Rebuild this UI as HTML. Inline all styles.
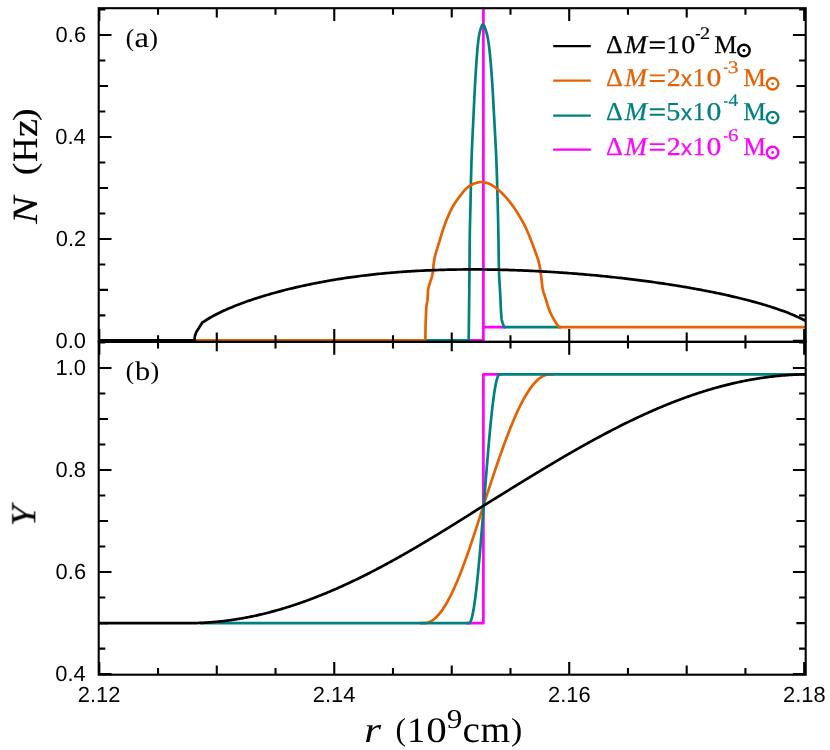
<!DOCTYPE html>
<html><head><meta charset="utf-8"><title>chart</title>
<style>html,body{margin:0;padding:0;background:#fff}svg{display:block}svg text{text-rendering:geometricPrecision}#txt{opacity:0.999}</style>
</head><body>
<svg width="830" height="750" viewBox="0 0 830 750">
<rect width="830" height="750" fill="#fff"/>
<g fill="none" stroke-width="2.7" stroke-linejoin="round" stroke-linecap="butt">
<path d="M466.5 340.30 L483.40 340.30 L483.40 8.6 M483.40 8.6 L483.40 327.10 L506 327.10" stroke="#FF00FF"/>
<path d="M423.00 340.30 L468.70 340.30 L468.71 339.52 L468.72 338.74 L468.73 337.97 L468.74 337.19 L468.75 336.41 L468.75 335.63 L468.76 334.85 L468.77 334.08 L468.78 333.30 L468.79 332.52 L468.80 331.74 L468.81 330.96 L468.82 330.19 L468.83 329.41 L468.84 328.63 L468.84 327.85 L468.85 327.07 L468.86 326.30 L468.87 325.52 L468.88 324.74 L468.89 323.96 L468.90 323.18 L468.91 322.41 L468.92 321.63 L468.92 320.85 L468.93 320.07 L468.94 319.29 L468.95 318.52 L468.96 317.74 L468.97 316.96 L468.98 316.18 L468.99 315.40 L469.00 314.62 L469.01 313.85 L469.02 313.07 L469.02 312.29 L469.03 311.51 L469.04 310.73 L469.05 309.96 L469.06 309.18 L469.07 308.40 L469.08 307.62 L469.09 306.84 L469.10 306.07 L469.11 305.29 L469.12 304.51 L469.13 303.73 L469.13 302.95 L469.14 302.18 L469.15 301.40 L469.16 300.62 L469.17 299.84 L469.18 299.06 L469.19 298.29 L469.20 297.51 L469.21 296.73 L469.22 295.95 L469.22 295.17 L469.23 294.40 L469.24 293.62 L469.25 292.84 L469.26 292.06 L469.27 291.28 L469.28 290.51 L469.29 289.73 L469.29 288.95 L469.30 288.17 L469.31 287.39 L469.32 286.62 L469.33 285.84 L469.34 285.06 L469.35 284.28 L469.35 283.50 L469.36 282.73 L469.37 281.95 L469.38 281.17 L469.39 280.39 L469.39 279.61 L469.40 278.84 L469.41 278.06 L469.42 277.28 L469.42 276.50 L469.43 275.72 L469.44 274.95 L469.45 274.17 L469.45 273.39 L469.46 272.61 L469.47 271.83 L469.47 271.05 L469.48 270.28 L469.49 269.50 L469.49 268.72 L469.50 267.94 L469.50 267.16 L469.51 266.39 L469.52 265.61 L469.52 264.83 L469.53 264.05 L469.53 263.27 L469.54 262.50 L469.55 261.72 L469.55 260.94 L469.56 260.16 L469.56 259.38 L469.57 258.61 L469.58 257.83 L469.58 257.05 L469.59 256.27 L469.59 255.49 L469.60 254.72 L469.61 253.94 L469.61 253.16 L469.62 252.38 L469.63 251.60 L469.63 250.82 L469.64 250.05 L469.65 249.27 L469.65 248.49 L469.66 247.71 L469.67 246.93 L469.67 246.16 L469.68 245.38 L469.69 244.60 L469.70 243.82 L469.71 243.04 L469.71 242.27 L469.72 241.49 L469.73 240.71 L469.74 239.93 L469.75 239.15 L469.76 238.38 L469.77 237.60 L469.78 236.82 L469.79 236.04 L469.80 235.26 L469.81 234.49 L469.82 233.71 L469.83 232.93 L469.84 232.15 L469.86 231.37 L469.87 230.60 L469.88 229.82 L469.90 229.04 L469.92 228.26 L469.93 227.49 L469.95 226.71 L469.97 225.93 L469.98 225.15 L470.00 224.37 L470.02 223.60 L470.04 222.82 L470.06 222.04 L470.08 221.26 L470.09 220.48 L470.11 219.71 L470.13 218.93 L470.15 218.15 L470.17 217.37 L470.19 216.60 L470.21 215.82 L470.23 215.04 L470.25 214.26 L470.27 213.48 L470.29 212.71 L470.31 211.93 L470.33 211.15 L470.35 210.37 L470.36 209.59 L470.38 208.82 L470.40 208.04 L470.42 207.26 L470.43 206.48 L470.45 205.70 L470.47 204.93 L470.48 204.15 L470.50 203.37 L470.52 202.59 L470.53 201.82 L470.55 201.04 L470.57 200.26 L470.58 199.48 L470.60 198.70 L470.61 197.93 L470.63 197.15 L470.65 196.37 L470.66 195.59 L470.68 194.81 L470.69 194.04 L470.71 193.26 L470.73 192.48 L470.74 191.70 L470.76 190.92 L470.77 190.15 L470.79 189.37 L470.81 188.59 L470.82 187.81 L470.84 187.03 L470.85 186.26 L470.87 185.48 L470.89 184.70 L470.90 183.92 L470.92 183.14 L470.94 182.37 L470.95 181.59 L470.97 180.81 L470.99 180.03 L471.01 179.25 L471.02 178.48 L471.04 177.70 L471.06 176.92 L471.08 176.14 L471.10 175.37 L471.12 174.59 L471.13 173.81 L471.15 173.03 L471.17 172.25 L471.19 171.48 L471.21 170.70 L471.23 169.92 L471.25 169.14 L471.28 168.37 L471.30 167.59 L471.32 166.81 L471.34 166.03 L471.36 165.25 L471.39 164.48 L471.41 163.70 L471.43 162.92 L471.46 162.14 L471.48 161.37 L471.51 160.59 L471.53 159.81 L471.56 159.03 L471.59 158.26 L471.61 157.48 L471.64 156.70 L471.67 155.92 L471.70 155.15 L471.73 154.37 L471.76 153.59 L471.79 152.81 L471.82 152.04 L471.85 151.26 L471.88 150.48 L471.92 149.70 L471.95 148.93 L471.98 148.15 L472.02 147.37 L472.05 146.59 L472.08 145.82 L472.12 145.04 L472.15 144.26 L472.19 143.48 L472.22 142.71 L472.26 141.93 L472.29 141.15 L472.33 140.38 L472.36 139.60 L472.40 138.82 L472.44 138.04 L472.47 137.27 L472.51 136.49 L472.55 135.71 L472.58 134.93 L472.62 134.16 L472.66 133.38 L472.69 132.60 L472.73 131.83 L472.77 131.05 L472.81 130.27 L472.84 129.49 L472.88 128.72 L472.92 127.94 L472.96 127.16 L472.99 126.38 L473.03 125.61 L473.07 124.83 L473.11 124.05 L473.14 123.28 L473.18 122.50 L473.22 121.72 L473.26 120.94 L473.29 120.17 L473.33 119.39 L473.37 118.61 L473.40 117.84 L473.44 117.06 L473.48 116.28 L473.51 115.50 L473.55 114.73 L473.58 113.95 L473.62 113.17 L473.66 112.39 L473.69 111.62 L473.73 110.84 L473.77 110.06 L473.80 109.29 L473.84 108.51 L473.88 107.73 L473.91 106.95 L473.95 106.18 L473.99 105.40 L474.02 104.62 L474.06 103.84 L474.10 103.07 L474.14 102.29 L474.17 101.51 L474.21 100.73 L474.25 99.96 L474.29 99.18 L474.33 98.40 L474.36 97.63 L474.40 96.85 L474.44 96.07 L474.48 95.29 L474.52 94.52 L474.56 93.74 L474.60 92.96 L474.64 92.19 L474.68 91.41 L474.72 90.63 L474.76 89.85 L474.80 89.08 L474.84 88.30 L474.88 87.52 L474.92 86.75 L474.97 85.97 L475.01 85.19 L475.05 84.41 L475.09 83.64 L475.14 82.86 L475.18 82.08 L475.23 81.31 L475.27 80.53 L475.31 79.75 L475.36 78.98 L475.41 78.20 L475.45 77.42 L475.50 76.65 L475.54 75.87 L475.59 75.09 L475.64 74.32 L475.69 73.54 L475.74 72.77 L475.79 71.99 L475.84 71.21 L475.89 70.44 L475.94 69.66 L475.99 68.88 L476.04 68.11 L476.09 67.33 L476.14 66.56 L476.19 65.78 L476.24 65.00 L476.29 64.22 L476.35 63.45 L476.40 62.67 L476.45 61.89 L476.50 61.11 L476.56 60.33 L476.61 59.56 L476.66 58.78 L476.72 58.00 L476.77 57.22 L476.83 56.44 L476.89 55.67 L476.95 54.89 L477.01 54.11 L477.07 53.33 L477.13 52.56 L477.20 51.78 L477.26 51.00 L477.33 50.23 L477.40 49.45 L477.47 48.68 L477.54 47.90 L477.62 47.13 L477.69 46.36 L477.77 45.58 L477.85 44.81 L477.93 44.04 L478.02 43.27 L478.11 42.50 L478.20 41.73 L478.29 40.96 L478.39 40.19 L478.48 39.42 L478.59 38.65 L478.70 37.88 L478.82 37.11 L478.94 36.34 L479.08 35.56 L479.22 34.79 L479.38 34.02 L479.54 33.25 L479.71 32.49 L479.89 31.73 L480.09 30.98 L480.29 30.23 L480.50 29.49 L480.72 28.75 L480.96 27.99 L481.26 27.10 L481.60 26.17 L481.97 25.32 L482.35 24.64 L482.72 24.25 L483.08 24.25 L483.47 24.63 L483.87 25.28 L484.26 26.11 L484.64 27.02 L484.98 27.90 L485.26 28.67 L485.52 29.39 L485.77 30.12 L486.01 30.85 L486.24 31.60 L486.45 32.35 L486.66 33.10 L486.86 33.86 L487.05 34.62 L487.23 35.39 L487.40 36.16 L487.56 36.92 L487.71 37.69 L487.86 38.45 L487.99 39.22 L488.11 39.98 L488.23 40.74 L488.35 41.51 L488.46 42.27 L488.58 43.04 L488.69 43.81 L488.79 44.58 L488.90 45.34 L489.00 46.11 L489.10 46.89 L489.19 47.66 L489.29 48.43 L489.38 49.20 L489.47 49.98 L489.56 50.75 L489.64 51.52 L489.73 52.30 L489.81 53.07 L489.89 53.85 L489.97 54.63 L490.05 55.40 L490.12 56.18 L490.20 56.96 L490.27 57.73 L490.34 58.51 L490.41 59.29 L490.48 60.07 L490.55 60.84 L490.62 61.62 L490.68 62.40 L490.75 63.18 L490.82 63.95 L490.88 64.73 L490.94 65.51 L491.01 66.28 L491.07 67.06 L491.13 67.83 L491.19 68.61 L491.25 69.39 L491.32 70.16 L491.38 70.94 L491.43 71.71 L491.49 72.49 L491.55 73.26 L491.61 74.04 L491.66 74.81 L491.72 75.59 L491.78 76.36 L491.83 77.14 L491.88 77.92 L491.94 78.69 L491.99 79.47 L492.04 80.24 L492.10 81.02 L492.15 81.80 L492.20 82.57 L492.25 83.35 L492.30 84.13 L492.35 84.90 L492.39 85.68 L492.44 86.46 L492.49 87.23 L492.54 88.01 L492.59 88.79 L492.63 89.56 L492.68 90.34 L492.72 91.12 L492.77 91.89 L492.81 92.67 L492.86 93.45 L492.90 94.22 L492.95 95.00 L492.99 95.78 L493.04 96.56 L493.08 97.33 L493.12 98.11 L493.17 98.89 L493.21 99.66 L493.25 100.44 L493.29 101.22 L493.34 102.00 L493.38 102.77 L493.42 103.55 L493.46 104.33 L493.50 105.10 L493.54 105.88 L493.59 106.66 L493.63 107.44 L493.67 108.21 L493.71 108.99 L493.75 109.77 L493.79 110.54 L493.83 111.32 L493.88 112.10 L493.92 112.88 L493.96 113.65 L494.00 114.43 L494.04 115.21 L494.08 115.98 L494.12 116.76 L494.17 117.54 L494.21 118.32 L494.25 119.09 L494.29 119.87 L494.34 120.65 L494.38 121.42 L494.42 122.20 L494.46 122.98 L494.51 123.75 L494.55 124.53 L494.59 125.31 L494.63 126.09 L494.68 126.86 L494.72 127.64 L494.76 128.42 L494.81 129.19 L494.85 129.97 L494.89 130.75 L494.93 131.52 L494.98 132.30 L495.02 133.08 L495.06 133.85 L495.10 134.63 L495.15 135.41 L495.19 136.19 L495.23 136.96 L495.27 137.74 L495.31 138.52 L495.35 139.29 L495.39 140.07 L495.44 140.85 L495.48 141.63 L495.52 142.40 L495.56 143.18 L495.60 143.96 L495.64 144.73 L495.68 145.51 L495.72 146.29 L495.75 147.07 L495.79 147.84 L495.83 148.62 L495.87 149.40 L495.91 150.17 L495.94 150.95 L495.98 151.73 L496.02 152.51 L496.05 153.28 L496.09 154.06 L496.12 154.84 L496.16 155.61 L496.19 156.39 L496.23 157.17 L496.26 157.95 L496.29 158.72 L496.32 159.50 L496.36 160.28 L496.39 161.06 L496.42 161.83 L496.45 162.61 L496.48 163.39 L496.51 164.17 L496.53 164.94 L496.56 165.72 L496.59 166.50 L496.62 167.28 L496.65 168.05 L496.67 168.83 L496.70 169.61 L496.73 170.39 L496.75 171.16 L496.78 171.94 L496.81 172.72 L496.83 173.50 L496.86 174.27 L496.88 175.05 L496.91 175.83 L496.93 176.61 L496.96 177.38 L496.98 178.16 L497.01 178.94 L497.03 179.72 L497.05 180.49 L497.08 181.27 L497.10 182.05 L497.12 182.83 L497.15 183.61 L497.17 184.38 L497.19 185.16 L497.21 185.94 L497.24 186.72 L497.26 187.50 L497.28 188.27 L497.30 189.05 L497.32 189.83 L497.35 190.61 L497.37 191.38 L497.39 192.16 L497.41 192.94 L497.43 193.72 L497.45 194.50 L497.47 195.27 L497.49 196.05 L497.51 196.83 L497.53 197.61 L497.55 198.38 L497.57 199.16 L497.60 199.94 L497.62 200.72 L497.64 201.50 L497.66 202.27 L497.67 203.05 L497.69 203.83 L497.71 204.61 L497.73 205.39 L497.75 206.16 L497.77 206.94 L497.79 207.72 L497.81 208.50 L497.83 209.27 L497.85 210.05 L497.87 210.83 L497.89 211.61 L497.91 212.39 L497.93 213.16 L497.95 213.94 L497.96 214.72 L497.98 215.50 L498.00 216.28 L498.02 217.05 L498.04 217.83 L498.06 218.61 L498.07 219.39 L498.09 220.16 L498.11 220.94 L498.13 221.72 L498.14 222.50 L498.16 223.28 L498.18 224.05 L498.19 224.83 L498.21 225.61 L498.23 226.39 L498.24 227.17 L498.26 227.94 L498.28 228.72 L498.29 229.50 L498.31 230.28 L498.32 231.06 L498.34 231.83 L498.35 232.61 L498.37 233.39 L498.38 234.17 L498.40 234.95 L498.41 235.72 L498.43 236.50 L498.44 237.28 L498.45 238.06 L498.47 238.84 L498.48 239.61 L498.49 240.39 L498.50 241.17 L498.51 241.95 L498.53 242.73 L498.54 243.50 L498.55 244.28 L498.56 245.06 L498.57 245.84 L498.58 246.62 L498.59 247.39 L498.60 248.17 L498.61 248.95 L498.62 249.73 L498.63 250.51 L498.64 251.29 L498.65 252.06 L498.66 252.84 L498.67 253.62 L498.68 254.40 L498.69 255.18 L498.70 255.95 L498.71 256.73 L498.72 257.51 L498.73 258.29 L498.75 259.07 L498.76 259.84 L498.77 260.62 L498.78 261.40 L498.80 262.18 L498.81 262.96 L498.82 263.73 L498.84 264.51 L498.85 265.29 L498.87 266.07 L498.89 266.84 L498.90 267.62 L498.92 268.40 L498.94 269.18 L498.96 269.96 L498.98 270.73 L499.00 271.51 L499.02 272.29 L499.04 273.06 L499.07 273.84 L499.10 274.62 L499.13 275.40 L499.16 276.17 L499.20 276.95 L499.24 277.73 L499.28 278.50 L499.32 279.28 L499.36 280.06 L499.41 280.84 L499.45 281.61 L499.50 282.39 L499.55 283.17 L499.60 283.94 L499.65 284.72 L499.70 285.50 L499.75 286.27 L499.80 287.05 L499.84 287.83 L499.89 288.60 L499.94 289.38 L499.99 290.16 L500.04 290.93 L500.09 291.71 L500.13 292.49 L500.18 293.26 L500.22 294.04 L500.26 294.82 L500.30 295.60 L500.34 296.38 L500.37 297.16 L500.41 297.94 L500.44 298.72 L500.47 299.50 L500.50 300.29 L500.53 301.07 L500.57 301.85 L500.60 302.63 L500.63 303.42 L500.66 304.20 L500.69 304.98 L500.73 305.76 L500.76 306.54 L500.80 307.33 L500.83 308.11 L500.87 308.88 L500.91 309.66 L500.96 310.44 L501.00 311.22 L501.05 311.99 L501.10 312.77 L501.15 313.54 L501.21 314.31 L501.27 315.08 L501.33 315.84 L501.40 316.61 L501.47 317.37 L501.55 318.13 L501.63 318.89 L501.75 319.65 L501.90 320.40 L502.08 321.15 L502.29 321.90 L502.51 322.65 L502.76 323.40 L503.02 324.14 L503.29 324.88 L503.56 325.62 L503.83 326.36 L504.10 327.10 L561.00 327.10" stroke="#008080"/>
<path d="M192.00 340.30 L425.40 340.30 L425.40 339.80 L425.40 339.30 L425.40 338.80 L425.41 338.30 L425.41 337.80 L425.41 337.31 L425.42 336.81 L425.42 336.31 L425.43 335.81 L425.43 335.31 L425.44 334.81 L425.44 334.31 L425.45 333.81 L425.45 333.31 L425.46 332.81 L425.47 332.31 L425.47 331.82 L425.48 331.32 L425.49 330.82 L425.50 330.32 L425.50 329.82 L425.51 329.32 L425.52 328.82 L425.53 328.32 L425.54 327.82 L425.55 327.32 L425.56 326.83 L425.57 326.33 L425.59 325.83 L425.60 325.33 L425.61 324.83 L425.63 324.33 L425.64 323.83 L425.66 323.33 L425.67 322.83 L425.69 322.33 L425.70 321.84 L425.72 321.34 L425.73 320.84 L425.75 320.34 L425.76 319.84 L425.78 319.34 L425.80 318.84 L425.81 318.34 L425.83 317.84 L425.85 317.34 L425.87 316.84 L425.88 316.34 L425.90 315.84 L425.92 315.34 L425.94 314.84 L425.96 314.34 L425.98 313.85 L426.00 313.35 L426.03 312.85 L426.05 312.35 L426.08 311.85 L426.10 311.35 L426.13 310.85 L426.15 310.36 L426.18 309.86 L426.21 309.36 L426.24 308.86 L426.28 308.37 L426.31 307.87 L426.34 307.37 L426.38 306.88 L426.42 306.38 L426.47 305.89 L426.53 305.39 L426.60 304.90 L426.68 304.41 L426.77 303.91 L426.86 303.42 L426.96 302.93 L427.05 302.44 L427.15 301.95 L427.24 301.45 L427.33 300.96 L427.41 300.47 L427.48 299.97 L427.54 299.48 L427.59 298.99 L427.63 298.49 L427.67 297.99 L427.70 297.49 L427.72 296.99 L427.75 296.49 L427.77 295.99 L427.79 295.49 L427.81 294.99 L427.83 294.49 L427.85 293.99 L427.87 293.49 L427.89 292.99 L427.91 292.49 L427.94 291.99 L427.97 291.49 L428.00 291.00 L428.04 290.50 L428.08 290.01 L428.13 289.52 L428.20 289.03 L428.29 288.55 L428.40 288.06 L428.52 287.58 L428.66 287.09 L428.80 286.61 L428.95 286.13 L429.10 285.65 L429.25 285.17 L429.40 284.69 L429.54 284.21 L429.68 283.73 L429.82 283.25 L429.96 282.77 L430.12 282.30 L430.27 281.82 L430.43 281.35 L430.58 280.87 L430.74 280.40 L430.90 279.92 L431.05 279.44 L431.20 278.97 L431.34 278.49 L431.48 278.01 L431.61 277.53 L431.74 277.05 L431.86 276.57 L431.97 276.08 L432.09 275.60 L432.20 275.11 L432.31 274.62 L432.43 274.13 L432.53 273.64 L432.64 273.15 L432.74 272.66 L432.83 272.17 L432.92 271.68 L433.00 271.19 L433.07 270.69 L433.13 270.20 L433.19 269.71 L433.24 269.21 L433.27 268.71 L433.31 268.22 L433.34 267.72 L433.36 267.22 L433.39 266.72 L433.42 266.22 L433.46 265.72 L433.50 265.23 L433.55 264.73 L433.60 264.23 L433.65 263.74 L433.72 263.24 L433.78 262.75 L433.85 262.25 L433.93 261.76 L434.00 261.26 L434.08 260.77 L434.17 260.28 L434.25 259.79 L434.34 259.30 L434.43 258.81 L434.53 258.32 L434.63 257.83 L434.74 257.35 L434.86 256.86 L434.98 256.37 L435.10 255.89 L435.23 255.40 L435.35 254.92 L435.48 254.44 L435.62 253.96 L435.75 253.47 L435.88 252.99 L436.01 252.51 L436.15 252.03 L436.28 251.55 L436.42 251.07 L436.57 250.60 L436.72 250.12 L436.87 249.64 L437.02 249.17 L437.17 248.69 L437.32 248.21 L437.47 247.74 L437.62 247.26 L437.77 246.78 L437.91 246.31 L438.06 245.83 L438.20 245.35 L438.35 244.88 L438.50 244.40 L438.64 243.92 L438.79 243.44 L438.93 242.97 L439.08 242.49 L439.23 242.01 L439.37 241.53 L439.52 241.06 L439.66 240.58 L439.81 240.10 L439.95 239.62 L440.10 239.15 L440.24 238.67 L440.38 238.19 L440.53 237.71 L440.67 237.23 L440.81 236.75 L440.95 236.28 L441.09 235.80 L441.24 235.32 L441.38 234.84 L441.52 234.36 L441.66 233.88 L441.81 233.41 L441.96 232.93 L442.10 232.45 L442.25 231.98 L442.40 231.50 L442.56 231.03 L442.71 230.55 L442.86 230.08 L443.02 229.60 L443.18 229.13 L443.33 228.65 L443.49 228.18 L443.65 227.71 L443.81 227.23 L443.98 226.76 L444.14 226.29 L444.31 225.82 L444.47 225.35 L444.64 224.88 L444.81 224.41 L444.98 223.94 L445.16 223.48 L445.33 223.01 L445.51 222.54 L445.69 222.08 L445.87 221.61 L446.06 221.15 L446.24 220.68 L446.43 220.22 L446.62 219.76 L446.81 219.30 L447.00 218.84 L447.19 218.37 L447.38 217.91 L447.58 217.45 L447.77 217.00 L447.97 216.54 L448.17 216.08 L448.36 215.62 L448.56 215.16 L448.76 214.70 L448.96 214.25 L449.16 213.79 L449.37 213.33 L449.57 212.88 L449.78 212.42 L449.99 211.97 L450.20 211.52 L450.42 211.07 L450.64 210.62 L450.86 210.17 L451.08 209.73 L451.31 209.29 L451.54 208.84 L451.78 208.41 L452.02 207.97 L452.26 207.53 L452.50 207.09 L452.75 206.66 L453.00 206.23 L453.26 205.80 L453.51 205.37 L453.77 204.94 L454.03 204.51 L454.29 204.09 L454.56 203.66 L454.83 203.24 L455.10 202.82 L455.37 202.40 L455.64 201.99 L455.92 201.57 L456.20 201.16 L456.48 200.75 L456.77 200.34 L457.06 199.94 L457.35 199.53 L457.64 199.13 L457.94 198.72 L458.24 198.32 L458.54 197.92 L458.84 197.53 L459.14 197.13 L459.45 196.73 L459.75 196.34 L460.06 195.94 L460.37 195.55 L460.68 195.16 L460.98 194.76 L461.29 194.37 L461.60 193.97 L461.90 193.57 L462.21 193.17 L462.52 192.77 L462.83 192.37 L463.14 191.97 L463.45 191.58 L463.77 191.19 L464.09 190.80 L464.42 190.43 L464.75 190.06 L465.09 189.69 L465.43 189.34 L465.78 189.00 L466.14 188.67 L466.50 188.34 L466.88 188.02 L467.26 187.70 L467.65 187.38 L468.05 187.07 L468.45 186.76 L468.86 186.46 L469.28 186.17 L469.70 185.88 L470.12 185.61 L470.55 185.34 L470.98 185.09 L471.41 184.85 L471.85 184.62 L472.29 184.41 L472.74 184.20 L473.19 184.00 L473.65 183.80 L474.12 183.61 L474.59 183.43 L475.07 183.26 L475.54 183.10 L476.02 182.95 L476.50 182.82 L476.99 182.70 L477.47 182.59 L477.96 182.48 L478.45 182.37 L478.94 182.26 L479.44 182.17 L479.93 182.09 L480.43 182.04 L480.92 182.00 L481.42 182.00 L481.91 182.02 L482.41 182.07 L482.91 182.13 L483.41 182.20 L483.90 182.29 L484.40 182.38 L484.89 182.48 L485.37 182.58 L485.86 182.68 L486.34 182.79 L486.83 182.93 L487.31 183.07 L487.79 183.23 L488.26 183.40 L488.73 183.58 L489.20 183.77 L489.66 183.96 L490.11 184.16 L490.55 184.36 L490.99 184.58 L491.43 184.82 L491.86 185.06 L492.29 185.32 L492.71 185.59 L493.13 185.87 L493.55 186.15 L493.96 186.44 L494.37 186.74 L494.78 187.04 L495.19 187.34 L495.59 187.64 L495.98 187.94 L496.38 188.24 L496.77 188.54 L497.16 188.85 L497.55 189.16 L497.93 189.48 L498.31 189.80 L498.69 190.13 L499.07 190.46 L499.44 190.79 L499.82 191.13 L500.18 191.47 L500.55 191.81 L500.91 192.16 L501.28 192.50 L501.64 192.85 L501.99 193.20 L502.35 193.55 L502.70 193.90 L503.05 194.25 L503.40 194.61 L503.74 194.97 L504.09 195.33 L504.43 195.69 L504.77 196.06 L505.11 196.43 L505.45 196.80 L505.78 197.17 L506.11 197.54 L506.44 197.92 L506.77 198.30 L507.10 198.68 L507.42 199.06 L507.74 199.44 L508.06 199.82 L508.38 200.20 L508.70 200.58 L509.02 200.97 L509.33 201.36 L509.64 201.75 L509.95 202.14 L510.26 202.53 L510.57 202.92 L510.88 203.32 L511.18 203.71 L511.49 204.11 L511.79 204.51 L512.09 204.91 L512.38 205.31 L512.68 205.72 L512.97 206.12 L513.26 206.53 L513.55 206.93 L513.84 207.34 L514.13 207.75 L514.41 208.16 L514.69 208.57 L514.97 208.98 L515.24 209.40 L515.52 209.81 L515.79 210.23 L516.06 210.65 L516.33 211.07 L516.60 211.49 L516.87 211.91 L517.13 212.34 L517.40 212.76 L517.66 213.19 L517.92 213.61 L518.18 214.04 L518.44 214.47 L518.70 214.90 L518.95 215.32 L519.21 215.75 L519.47 216.18 L519.72 216.61 L519.97 217.04 L520.23 217.47 L520.48 217.90 L520.73 218.33 L520.98 218.77 L521.23 219.20 L521.48 219.63 L521.73 220.06 L521.98 220.50 L522.22 220.93 L522.47 221.37 L522.71 221.81 L522.95 222.24 L523.19 222.68 L523.42 223.12 L523.66 223.56 L523.89 224.00 L524.12 224.45 L524.34 224.89 L524.57 225.34 L524.79 225.78 L525.01 226.23 L525.23 226.68 L525.44 227.13 L525.66 227.58 L525.87 228.03 L526.08 228.48 L526.29 228.94 L526.50 229.39 L526.71 229.84 L526.91 230.30 L527.12 230.76 L527.32 231.21 L527.52 231.67 L527.72 232.13 L527.92 232.59 L528.12 233.04 L528.32 233.50 L528.51 233.96 L528.71 234.42 L528.90 234.88 L529.09 235.34 L529.28 235.80 L529.47 236.26 L529.66 236.73 L529.85 237.19 L530.03 237.65 L530.21 238.12 L530.40 238.58 L530.58 239.05 L530.76 239.51 L530.94 239.98 L531.12 240.44 L531.30 240.91 L531.48 241.38 L531.66 241.84 L531.83 242.31 L532.01 242.78 L532.19 243.24 L532.37 243.71 L532.54 244.17 L532.72 244.64 L532.90 245.11 L533.07 245.58 L533.25 246.04 L533.42 246.51 L533.60 246.98 L533.77 247.45 L533.95 247.91 L534.12 248.38 L534.29 248.85 L534.46 249.32 L534.63 249.79 L534.80 250.26 L534.97 250.73 L535.14 251.20 L535.31 251.67 L535.47 252.14 L535.64 252.61 L535.80 253.08 L535.97 253.55 L536.14 254.02 L536.31 254.49 L536.48 254.96 L536.65 255.43 L536.82 255.90 L536.99 256.38 L537.15 256.85 L537.31 257.32 L537.47 257.79 L537.63 258.27 L537.79 258.74 L537.94 259.22 L538.08 259.69 L538.22 260.17 L538.35 260.65 L538.48 261.13 L538.61 261.61 L538.73 262.10 L538.84 262.58 L538.96 263.06 L539.08 263.55 L539.19 264.04 L539.30 264.52 L539.40 265.01 L539.51 265.50 L539.61 265.99 L539.71 266.48 L539.80 266.97 L539.90 267.47 L539.99 267.96 L540.07 268.45 L540.16 268.94 L540.24 269.43 L540.32 269.92 L540.40 270.42 L540.47 270.91 L540.54 271.40 L540.61 271.90 L540.67 272.39 L540.73 272.89 L540.80 273.38 L540.86 273.88 L540.92 274.37 L540.98 274.87 L541.04 275.37 L541.09 275.86 L541.15 276.36 L541.21 276.85 L541.27 277.35 L541.33 277.85 L541.39 278.34 L541.45 278.84 L541.51 279.33 L541.57 279.83 L541.63 280.33 L541.68 280.82 L541.74 281.32 L541.79 281.82 L541.85 282.32 L541.90 282.82 L541.95 283.32 L542.01 283.81 L542.07 284.31 L542.12 284.81 L542.18 285.30 L542.25 285.80 L542.31 286.29 L542.38 286.78 L542.45 287.28 L542.53 287.77 L542.61 288.26 L542.69 288.74 L542.78 289.23 L542.88 289.71 L542.99 290.20 L543.10 290.68 L543.23 291.16 L543.36 291.64 L543.49 292.12 L543.64 292.60 L543.78 293.07 L543.94 293.55 L544.09 294.03 L544.25 294.50 L544.41 294.98 L544.57 295.45 L544.74 295.93 L544.90 296.40 L545.06 296.88 L545.23 297.35 L545.39 297.83 L545.55 298.30 L545.71 298.78 L545.86 299.25 L546.01 299.73 L546.16 300.21 L546.30 300.69 L546.44 301.17 L546.58 301.65 L546.73 302.13 L546.87 302.61 L547.01 303.09 L547.15 303.58 L547.29 304.06 L547.43 304.54 L547.57 305.02 L547.72 305.50 L547.87 305.98 L548.02 306.45 L548.17 306.93 L548.32 307.40 L548.48 307.87 L548.65 308.34 L548.82 308.81 L548.99 309.27 L549.17 309.73 L549.35 310.18 L549.54 310.64 L549.73 311.09 L549.92 311.54 L550.12 312.00 L550.32 312.45 L550.52 312.90 L550.73 313.35 L550.94 313.80 L551.15 314.24 L551.37 314.69 L551.59 315.14 L551.81 315.58 L552.03 316.02 L552.26 316.47 L552.50 316.91 L552.73 317.35 L552.97 317.78 L553.21 318.22 L553.45 318.66 L553.70 319.09 L553.95 319.53 L554.21 319.96 L554.46 320.39 L554.72 320.82 L554.99 321.25 L555.25 321.68 L555.52 322.10 L555.80 322.53 L556.07 322.95 L556.35 323.37 L556.63 323.79 L556.92 324.21 L557.21 324.63 L557.50 325.04 L557.79 325.46 L558.09 325.87 L558.39 326.28 L558.69 326.69 L559.00 327.10 L805.70 327.10" stroke="#E66101"/>
<path d="M98.70 340.30 L194.40 340.30 L194.90 336.00 L196.20 332.30 L202.50 322.30 L204.00 321.58 L206.00 320.24 L208.00 318.97 L210.00 317.77 L212.00 316.63 L214.00 315.53 L216.00 314.47 L218.00 313.45 L220.00 312.47 L222.00 311.52 L224.00 310.59 L226.00 309.69 L228.00 308.82 L230.00 307.96 L232.00 307.13 L234.00 306.32 L236.00 305.52 L238.00 304.74 L240.00 303.98 L242.00 303.23 L244.00 302.50 L246.00 301.79 L248.00 301.08 L250.00 300.39 L252.00 299.71 L254.00 299.05 L256.00 298.39 L258.00 297.75 L260.00 297.12 L262.00 296.50 L264.00 295.89 L266.00 295.29 L268.00 294.70 L270.00 294.12 L272.00 293.55 L274.00 292.99 L276.00 292.43 L278.00 291.89 L280.00 291.36 L282.00 290.83 L284.00 290.31 L286.00 289.80 L288.00 289.30 L290.00 288.81 L292.00 288.33 L294.00 287.85 L296.00 287.38 L298.00 286.92 L300.00 286.47 L302.00 286.02 L304.00 285.58 L306.00 285.15 L308.00 284.73 L310.00 284.31 L312.00 283.90 L314.00 283.50 L316.00 283.10 L318.00 282.71 L320.00 282.33 L322.00 281.96 L324.00 281.59 L326.00 281.23 L328.00 280.87 L330.00 280.52 L332.00 280.18 L334.00 279.84 L336.00 279.51 L338.00 279.19 L340.00 278.87 L342.00 278.56 L344.00 278.26 L346.00 277.96 L348.00 277.67 L350.00 277.38 L352.00 277.10 L354.00 276.82 L356.00 276.55 L358.00 276.29 L360.00 276.03 L362.00 275.78 L364.00 275.53 L366.00 275.29 L368.00 275.06 L370.00 274.83 L372.00 274.60 L374.00 274.38 L376.00 274.17 L378.00 273.96 L380.00 273.76 L382.00 273.56 L384.00 273.37 L386.00 273.18 L388.00 273.00 L390.00 272.82 L392.00 272.65 L394.00 272.48 L396.00 272.32 L398.00 272.16 L400.00 272.01 L402.00 271.86 L404.00 271.72 L406.00 271.58 L408.00 271.45 L410.00 271.32 L412.00 271.19 L414.00 271.07 L416.00 270.96 L418.00 270.85 L420.00 270.74 L422.00 270.64 L424.00 270.54 L426.00 270.45 L428.00 270.36 L430.00 270.28 L432.00 270.20 L434.00 270.12 L436.00 270.05 L438.00 269.98 L440.00 269.92 L442.00 269.86 L444.00 269.80 L446.00 269.75 L448.00 269.70 L450.00 269.66 L452.00 269.62 L454.00 269.58 L456.00 269.55 L458.00 269.52 L460.00 269.50 L462.00 269.48 L464.00 269.46 L466.00 269.44 L468.00 269.43 L470.00 269.43 L472.00 269.43 L474.00 269.43 L476.00 269.43 L478.00 269.44 L480.00 269.45 L482.00 269.47 L484.00 269.48 L486.00 269.51 L488.00 269.53 L490.00 269.56 L492.00 269.59 L494.00 269.63 L496.00 269.67 L498.00 269.71 L500.00 269.75 L502.00 269.80 L504.00 269.85 L506.00 269.91 L508.00 269.97 L510.00 270.03 L512.00 270.09 L514.00 270.16 L516.00 270.23 L518.00 270.30 L520.00 270.38 L522.00 270.46 L524.00 270.54 L526.00 270.63 L528.00 270.71 L530.00 270.81 L532.00 270.90 L534.00 271.00 L536.00 271.10 L538.00 271.20 L540.00 271.31 L542.00 271.42 L544.00 271.53 L546.00 271.65 L548.00 271.76 L550.00 271.88 L552.00 272.01 L554.00 272.14 L556.00 272.27 L558.00 272.40 L560.00 272.53 L562.00 272.67 L564.00 272.81 L566.00 272.96 L568.00 273.10 L570.00 273.25 L572.00 273.41 L574.00 273.56 L576.00 273.72 L578.00 273.88 L580.00 274.05 L582.00 274.21 L584.00 274.38 L586.00 274.56 L588.00 274.73 L590.00 274.91 L592.00 275.09 L594.00 275.28 L596.00 275.46 L598.00 275.65 L600.00 275.85 L602.00 276.04 L604.00 276.24 L606.00 276.44 L608.00 276.65 L610.00 276.86 L612.00 277.07 L614.00 277.28 L616.00 277.50 L618.00 277.72 L620.00 277.94 L622.00 278.17 L624.00 278.40 L626.00 278.63 L628.00 278.87 L630.00 279.11 L632.00 279.35 L634.00 279.59 L636.00 279.84 L638.00 280.09 L640.00 280.35 L642.00 280.61 L644.00 280.87 L646.00 281.13 L648.00 281.40 L650.00 281.67 L652.00 281.95 L654.00 282.23 L656.00 282.51 L658.00 282.80 L660.00 283.09 L662.00 283.38 L664.00 283.68 L666.00 283.98 L668.00 284.28 L670.00 284.59 L672.00 284.90 L674.00 285.22 L676.00 285.54 L678.00 285.86 L680.00 286.19 L682.00 286.52 L684.00 286.86 L686.00 287.20 L688.00 287.54 L690.00 287.89 L692.00 288.24 L694.00 288.60 L696.00 288.96 L698.00 289.33 L700.00 289.70 L702.00 290.08 L704.00 290.46 L706.00 290.84 L708.00 291.24 L710.00 291.63 L712.00 292.03 L714.00 292.44 L716.00 292.85 L718.00 293.27 L720.00 293.69 L722.00 294.12 L724.00 294.55 L726.00 294.99 L728.00 295.44 L730.00 295.89 L732.00 296.35 L734.00 296.82 L736.00 297.29 L738.00 297.77 L740.00 298.25 L742.00 298.75 L744.00 299.25 L746.00 299.75 L748.00 300.27 L750.00 300.79 L752.00 301.33 L754.00 301.87 L756.00 302.42 L758.00 302.98 L760.00 303.55 L762.00 304.13 L764.00 304.72 L766.00 305.32 L768.00 305.94 L770.00 306.56 L772.00 307.20 L774.00 307.85 L776.00 308.52 L778.00 309.20 L780.00 309.90 L782.00 310.61 L784.00 311.34 L786.00 312.09 L788.00 312.86 L790.00 313.66 L792.00 314.48 L794.00 315.32 L796.00 316.20 L798.00 317.11 L800.00 318.05 L802.00 319.04 L804.00 320.07 L805.70 320.99" stroke="#000000"/>
<path d="M466.00 623.20 L483.40 623.20 L483.40 374.30 L502.00 374.30" stroke="#FF00FF"/>
<path d="M420.00 623.20 L424.00 623.20 L424.53 623.19 L425.05 623.16 L425.58 623.10 L426.11 623.02 L426.64 622.92 L427.16 622.80 L427.69 622.65 L428.22 622.48 L428.74 622.29 L429.27 622.08 L429.80 621.84 L430.33 621.58 L430.85 621.30 L431.38 621.00 L431.91 620.68 L432.44 620.33 L432.96 619.96 L433.49 619.57 L434.02 619.16 L434.54 618.73 L435.07 618.27 L435.60 617.80 L436.13 617.30 L436.65 616.78 L437.18 616.24 L437.71 615.67 L438.23 615.09 L438.76 614.49 L439.29 613.86 L439.82 613.21 L440.34 612.55 L440.87 611.86 L441.40 611.15 L441.93 610.42 L442.45 609.68 L442.98 608.91 L443.51 608.12 L444.03 607.31 L444.56 606.48 L445.09 605.64 L445.62 604.77 L446.14 603.88 L446.67 602.98 L447.20 602.05 L447.72 601.11 L448.25 600.15 L448.78 599.17 L449.31 598.18 L449.83 597.16 L450.36 596.13 L450.89 595.08 L451.41 594.01 L451.94 592.92 L452.47 591.82 L453.00 590.70 L453.52 589.57 L454.05 588.41 L454.58 587.25 L455.11 586.06 L455.63 584.86 L456.16 583.65 L456.69 582.41 L457.21 581.17 L457.74 579.91 L458.27 578.63 L458.80 577.34 L459.32 576.04 L459.85 574.72 L460.38 573.39 L460.90 572.04 L461.43 570.68 L461.96 569.31 L462.49 567.93 L463.01 566.53 L463.54 565.12 L464.07 563.70 L464.60 562.27 L465.12 560.82 L465.65 559.37 L466.18 557.90 L466.70 556.42 L467.23 554.93 L467.76 553.44 L468.29 551.93 L468.81 550.41 L469.34 548.88 L469.87 547.35 L470.39 545.80 L470.92 544.25 L471.45 542.69 L471.98 541.12 L472.50 539.54 L473.03 537.96 L473.56 536.37 L474.08 534.77 L474.61 533.16 L475.14 531.55 L475.67 529.94 L476.19 528.31 L476.72 526.69 L477.25 525.05 L477.78 523.42 L478.30 521.77 L478.83 520.13 L479.36 518.48 L479.88 516.82 L480.41 515.17 L480.94 513.51 L481.47 511.84 L481.99 510.18 L482.52 508.51 L483.05 506.84 L483.57 505.17 L484.10 503.50 L484.63 501.83 L485.16 500.16 L485.68 498.50 L486.21 496.90 L486.74 495.30 L487.27 493.70 L487.79 492.10 L488.32 490.50 L488.85 488.90 L489.37 487.31 L489.90 485.72 L490.43 484.13 L490.96 482.54 L491.48 480.95 L492.01 479.37 L492.54 477.79 L493.06 476.22 L493.59 474.65 L494.12 473.08 L494.65 471.51 L495.17 469.95 L495.70 468.40 L496.23 466.85 L496.75 465.31 L497.28 463.77 L497.81 462.24 L498.34 460.71 L498.86 459.19 L499.39 457.67 L499.92 456.17 L500.45 454.67 L500.97 453.17 L501.50 451.69 L502.03 450.21 L502.55 448.74 L503.08 447.28 L503.61 445.83 L504.14 444.38 L504.66 442.95 L505.19 441.52 L505.72 440.11 L506.24 438.70 L506.77 437.30 L507.30 435.92 L507.83 434.54 L508.35 433.18 L508.88 431.82 L509.41 430.48 L509.94 429.15 L510.46 427.82 L510.99 426.52 L511.52 425.22 L512.04 423.93 L512.57 422.66 L513.10 421.40 L513.63 420.15 L514.15 418.92 L514.68 417.70 L515.21 416.49 L515.73 415.30 L516.26 414.12 L516.79 412.95 L517.32 411.80 L517.84 410.66 L518.37 409.54 L518.90 408.43 L519.42 407.34 L519.95 406.26 L520.48 405.19 L521.01 404.15 L521.53 403.12 L522.06 402.10 L522.59 401.10 L523.12 400.12 L523.64 399.15 L524.17 398.20 L524.70 397.26 L525.22 396.34 L525.75 395.44 L526.28 394.56 L526.81 393.69 L527.33 392.84 L527.86 392.01 L528.39 391.20 L528.91 390.40 L529.44 389.62 L529.97 388.86 L530.50 388.12 L531.02 387.40 L531.55 386.69 L532.08 386.01 L532.61 385.34 L533.13 384.69 L533.66 384.06 L534.19 383.45 L534.71 382.85 L535.24 382.28 L535.77 381.73 L536.30 381.19 L536.82 380.68 L537.35 380.18 L537.88 379.70 L538.40 379.25 L538.93 378.81 L539.46 378.39 L539.99 378.00 L540.51 377.62 L541.04 377.26 L541.57 376.92 L542.10 376.61 L542.62 376.31 L543.15 376.03 L543.68 375.78 L544.20 375.54 L544.73 375.33 L545.26 375.13 L545.79 374.96 L546.31 374.80 L546.84 374.67 L547.37 374.56 L547.89 374.46 L548.42 374.39 L548.95 374.34 L549.48 374.31 L550.00 374.30 L554.00 374.30" stroke="#E66101"/>
<path d="M200.00 623.20 L468.90 623.20 L469.03 623.19 L469.16 623.16 L469.29 623.10 L469.42 623.03 L469.54 622.93 L469.67 622.81 L469.80 622.67 L469.93 622.51 L470.06 622.33 L470.19 622.13 L470.32 621.90 L470.45 621.65 L470.58 621.39 L470.70 621.10 L470.83 620.79 L470.96 620.46 L471.09 620.11 L471.22 619.73 L471.35 619.34 L471.48 618.92 L471.61 618.49 L471.74 618.03 L471.86 617.56 L471.99 617.06 L472.12 616.54 L472.25 616.00 L472.38 615.44 L472.51 614.87 L472.64 614.27 L472.77 613.65 L472.89 613.01 L473.02 612.35 L473.15 611.67 L473.28 610.98 L473.41 610.26 L473.54 609.52 L473.67 608.77 L473.80 607.99 L473.93 607.20 L474.05 606.39 L474.18 605.56 L474.31 604.71 L474.44 603.84 L474.57 602.96 L474.70 602.06 L474.83 601.13 L474.96 600.20 L475.09 599.24 L475.21 598.27 L475.34 597.27 L475.47 596.27 L475.60 595.24 L475.73 594.20 L475.86 593.14 L475.99 592.07 L476.12 590.98 L476.25 589.87 L476.37 588.75 L476.50 587.61 L476.63 586.46 L476.76 585.29 L476.89 584.11 L477.02 582.91 L477.15 581.70 L477.28 580.47 L477.41 579.23 L477.53 577.98 L477.66 576.71 L477.79 575.43 L477.92 574.13 L478.05 572.82 L478.18 571.50 L478.31 570.17 L478.44 568.82 L478.57 567.47 L478.69 566.10 L478.82 564.71 L478.95 563.32 L479.08 561.92 L479.21 560.50 L479.34 559.08 L479.47 557.64 L479.60 556.19 L479.73 554.74 L479.85 553.27 L479.98 551.80 L480.11 550.31 L480.24 548.82 L480.37 547.32 L480.50 545.81 L480.63 544.29 L480.76 542.76 L480.88 541.23 L481.01 539.69 L481.14 538.14 L481.27 536.58 L481.40 535.02 L481.53 533.45 L481.66 531.88 L481.79 530.30 L481.92 528.72 L482.04 527.13 L482.17 525.53 L482.30 523.93 L482.43 522.33 L482.56 520.72 L482.69 519.11 L482.82 517.49 L482.95 515.87 L483.08 514.25 L483.20 512.63 L483.33 511.00 L483.46 509.37 L483.59 507.74 L483.72 506.11 L483.85 504.47 L483.98 502.84 L484.11 501.20 L484.24 499.57 L484.36 497.93 L484.49 496.30 L484.62 494.66 L484.75 493.03 L484.88 491.39 L485.01 489.76 L485.14 488.13 L485.27 486.50 L485.40 484.87 L485.52 483.25 L485.65 481.63 L485.78 480.01 L485.91 478.39 L486.04 476.78 L486.17 475.17 L486.30 473.57 L486.43 471.97 L486.56 470.37 L486.68 468.78 L486.81 467.20 L486.94 465.62 L487.07 464.05 L487.20 462.48 L487.33 460.92 L487.46 459.36 L487.59 457.81 L487.72 456.27 L487.84 454.74 L487.97 453.21 L488.10 451.69 L488.23 450.18 L488.36 448.68 L488.49 447.19 L488.62 445.70 L488.75 444.23 L488.87 442.76 L489.00 441.31 L489.13 439.86 L489.26 438.42 L489.39 437.00 L489.52 435.58 L489.65 434.18 L489.78 432.79 L489.91 431.40 L490.03 430.03 L490.16 428.68 L490.29 427.33 L490.42 426.00 L490.55 424.68 L490.68 423.37 L490.81 422.07 L490.94 420.79 L491.07 419.52 L491.19 418.27 L491.32 417.03 L491.45 415.80 L491.58 414.59 L491.71 413.39 L491.84 412.21 L491.97 411.04 L492.10 409.89 L492.23 408.75 L492.35 407.63 L492.48 406.52 L492.61 405.43 L492.74 404.36 L492.87 403.30 L493.00 402.26 L493.13 401.23 L493.26 400.23 L493.39 399.23 L493.51 398.26 L493.64 397.30 L493.77 396.37 L493.90 395.44 L494.03 394.54 L494.16 393.66 L494.29 392.79 L494.42 391.94 L494.55 391.11 L494.67 390.30 L494.80 389.51 L494.93 388.73 L495.06 387.98 L495.19 387.24 L495.32 386.52 L495.45 385.83 L495.58 385.15 L495.70 384.49 L495.83 383.85 L495.96 383.23 L496.09 382.63 L496.22 382.06 L496.35 381.50 L496.48 380.96 L496.61 380.44 L496.74 379.94 L496.86 379.47 L496.99 379.01 L497.12 378.58 L497.25 378.16 L497.38 377.77 L497.51 377.39 L497.64 377.04 L497.77 376.71 L497.90 376.40 L498.02 376.11 L498.15 375.85 L498.28 375.60 L498.41 375.37 L498.54 375.17 L498.67 374.99 L498.80 374.83 L498.93 374.69 L499.06 374.57 L499.18 374.47 L499.31 374.40 L499.44 374.34 L499.57 374.31 L499.70 374.30 L805.70 374.30" stroke="#008080"/>
<path d="M98.70 623.20 L186.00 623.20 L187.00 623.20 L188.00 623.20 L189.00 623.19 L190.00 623.19 L191.00 623.18 L192.00 623.16 L193.00 623.14 L194.00 623.12 L195.00 623.10 L196.00 623.07 L197.00 623.04 L198.00 623.01 L199.00 622.97 L200.00 622.93 L201.00 622.89 L202.00 622.84 L203.00 622.79 L204.00 622.74 L205.00 622.68 L206.00 622.62 L207.00 622.56 L208.00 622.49 L209.00 622.42 L210.00 622.35 L211.00 622.27 L212.00 622.19 L213.00 622.11 L214.00 622.02 L215.00 621.94 L216.00 621.84 L217.00 621.75 L218.00 621.65 L219.00 621.55 L220.00 621.44 L221.00 621.34 L222.00 621.22 L223.00 621.11 L224.00 620.99 L225.00 620.87 L226.00 620.75 L227.00 620.62 L228.00 620.49 L229.00 620.36 L230.00 620.22 L231.00 620.08 L232.00 619.94 L233.00 619.79 L234.00 619.64 L235.00 619.49 L236.00 619.33 L237.00 619.17 L238.00 619.01 L239.00 618.85 L240.00 618.68 L241.00 618.51 L242.00 618.33 L243.00 618.15 L244.00 617.97 L245.00 617.79 L246.00 617.60 L247.00 617.41 L248.00 617.22 L249.00 617.02 L250.00 616.82 L251.00 616.62 L252.00 616.41 L253.00 616.21 L254.00 615.99 L255.00 615.78 L256.00 615.56 L257.00 615.34 L258.00 615.12 L259.00 614.89 L260.00 614.66 L261.00 614.43 L262.00 614.19 L263.00 613.95 L264.00 613.71 L265.00 613.46 L266.00 613.22 L267.00 612.97 L268.00 612.71 L269.00 612.45 L270.00 612.19 L271.00 611.93 L272.00 611.67 L273.00 611.40 L274.00 611.12 L275.00 610.85 L276.00 610.57 L277.00 610.29 L278.00 610.01 L279.00 609.72 L280.00 609.43 L281.00 609.14 L282.00 608.85 L283.00 608.55 L284.00 608.25 L285.00 607.94 L286.00 607.64 L287.00 607.33 L288.00 607.01 L289.00 606.70 L290.00 606.38 L291.00 606.06 L292.00 605.74 L293.00 605.41 L294.00 605.08 L295.00 604.75 L296.00 604.42 L297.00 604.08 L298.00 603.74 L299.00 603.40 L300.00 603.05 L301.00 602.70 L302.00 602.35 L303.00 602.00 L304.00 601.64 L305.00 601.28 L306.00 600.92 L307.00 600.56 L308.00 600.19 L309.00 599.82 L310.00 599.45 L311.00 599.07 L312.00 598.69 L313.00 598.31 L314.00 597.93 L315.00 597.55 L316.00 597.16 L317.00 596.77 L318.00 596.37 L319.00 595.98 L320.00 595.58 L321.00 595.18 L322.00 594.78 L323.00 594.37 L324.00 593.96 L325.00 593.55 L326.00 593.14 L327.00 592.72 L328.00 592.30 L329.00 591.88 L330.00 591.46 L331.00 591.03 L332.00 590.61 L333.00 590.18 L334.00 589.74 L335.00 589.31 L336.00 588.87 L337.00 588.43 L338.00 587.99 L339.00 587.55 L340.00 587.10 L341.00 586.65 L342.00 586.20 L343.00 585.74 L344.00 585.29 L345.00 584.83 L346.00 584.37 L347.00 583.91 L348.00 583.44 L349.00 582.98 L350.00 582.51 L351.00 582.03 L352.00 581.56 L353.00 581.09 L354.00 580.61 L355.00 580.13 L356.00 579.64 L357.00 579.16 L358.00 578.67 L359.00 578.19 L360.00 577.70 L361.00 577.20 L362.00 576.71 L363.00 576.21 L364.00 575.71 L365.00 575.21 L366.00 574.71 L367.00 574.20 L368.00 573.70 L369.00 573.19 L370.00 572.68 L371.00 572.17 L372.00 571.65 L373.00 571.13 L374.00 570.62 L375.00 570.10 L376.00 569.57 L377.00 569.05 L378.00 568.52 L379.00 568.00 L380.00 567.47 L381.00 566.94 L382.00 566.40 L383.00 565.87 L384.00 565.33 L385.00 564.79 L386.00 564.26 L387.00 563.71 L388.00 563.17 L389.00 562.63 L390.00 562.08 L391.00 561.53 L392.00 560.98 L393.00 560.43 L394.00 559.88 L395.00 559.32 L396.00 558.76 L397.00 558.21 L398.00 557.65 L399.00 557.09 L400.00 556.52 L401.00 555.96 L402.00 555.39 L403.00 554.83 L404.00 554.26 L405.00 553.69 L406.00 553.12 L407.00 552.55 L408.00 551.97 L409.00 551.40 L410.00 550.82 L411.00 550.24 L412.00 549.66 L413.00 549.08 L414.00 548.50 L415.00 547.91 L416.00 547.33 L417.00 546.74 L418.00 546.16 L419.00 545.57 L420.00 544.98 L421.00 544.39 L422.00 543.79 L423.00 543.20 L424.00 542.61 L425.00 542.01 L426.00 541.41 L427.00 540.82 L428.00 540.22 L429.00 539.62 L430.00 539.01 L431.00 538.41 L432.00 537.81 L433.00 537.20 L434.00 536.60 L435.00 535.99 L436.00 535.39 L437.00 534.78 L438.00 534.17 L439.00 533.56 L440.00 532.95 L441.00 532.34 L442.00 531.72 L443.00 531.11 L444.00 530.49 L445.00 529.88 L446.00 529.26 L447.00 528.65 L448.00 528.03 L449.00 527.41 L450.00 526.79 L451.00 526.17 L452.00 525.55 L453.00 524.93 L454.00 524.31 L455.00 523.68 L456.00 523.06 L457.00 522.44 L458.00 521.81 L459.00 521.19 L460.00 520.56 L461.00 519.93 L462.00 519.31 L463.00 518.68 L464.00 518.05 L465.00 517.42 L466.00 516.79 L467.00 516.17 L468.00 515.54 L469.00 514.91 L470.00 514.27 L471.00 513.64 L472.00 513.01 L473.00 512.38 L474.00 511.75 L475.00 511.11 L476.00 510.48 L477.00 509.85 L478.00 509.22 L479.00 508.58 L480.00 507.95 L481.00 507.31 L482.00 506.68 L483.00 506.04 L484.00 505.42 L485.00 504.80 L486.00 504.18 L487.00 503.56 L488.00 502.94 L489.00 502.32 L490.00 501.70 L491.00 501.08 L492.00 500.46 L493.00 499.84 L494.00 499.22 L495.00 498.60 L496.00 497.98 L497.00 497.36 L498.00 496.74 L499.00 496.13 L500.00 495.51 L501.00 494.89 L502.00 494.27 L503.00 493.65 L504.00 493.03 L505.00 492.41 L506.00 491.79 L507.00 491.17 L508.00 490.55 L509.00 489.93 L510.00 489.32 L511.00 488.70 L512.00 488.08 L513.00 487.46 L514.00 486.85 L515.00 486.23 L516.00 485.61 L517.00 485.00 L518.00 484.38 L519.00 483.77 L520.00 483.15 L521.00 482.54 L522.00 481.92 L523.00 481.31 L524.00 480.70 L525.00 480.08 L526.00 479.47 L527.00 478.86 L528.00 478.25 L529.00 477.63 L530.00 477.02 L531.00 476.41 L532.00 475.81 L533.00 475.20 L534.00 474.59 L535.00 473.98 L536.00 473.37 L537.00 472.77 L538.00 472.16 L539.00 471.56 L540.00 470.95 L541.00 470.35 L542.00 469.74 L543.00 469.14 L544.00 468.54 L545.00 467.94 L546.00 467.34 L547.00 466.74 L548.00 466.14 L549.00 465.54 L550.00 464.95 L551.00 464.35 L552.00 463.76 L553.00 463.16 L554.00 462.57 L555.00 461.98 L556.00 461.38 L557.00 460.79 L558.00 460.20 L559.00 459.61 L560.00 459.03 L561.00 458.44 L562.00 457.85 L563.00 457.27 L564.00 456.69 L565.00 456.10 L566.00 455.52 L567.00 454.94 L568.00 454.36 L569.00 453.78 L570.00 453.21 L571.00 452.63 L572.00 452.05 L573.00 451.48 L574.00 450.91 L575.00 450.34 L576.00 449.77 L577.00 449.20 L578.00 448.63 L579.00 448.06 L580.00 447.50 L581.00 446.93 L582.00 446.37 L583.00 445.81 L584.00 445.25 L585.00 444.69 L586.00 444.13 L587.00 443.58 L588.00 443.02 L589.00 442.47 L590.00 441.91 L591.00 441.36 L592.00 440.81 L593.00 440.27 L594.00 439.72 L595.00 439.18 L596.00 438.63 L597.00 438.09 L598.00 437.55 L599.00 437.01 L600.00 436.47 L601.00 435.94 L602.00 435.40 L603.00 434.87 L604.00 434.34 L605.00 433.81 L606.00 433.28 L607.00 432.76 L608.00 432.23 L609.00 431.71 L610.00 431.19 L611.00 430.67 L612.00 430.15 L613.00 429.63 L614.00 429.12 L615.00 428.61 L616.00 428.10 L617.00 427.59 L618.00 427.08 L619.00 426.57 L620.00 426.07 L621.00 425.57 L622.00 425.07 L623.00 424.57 L624.00 424.07 L625.00 423.58 L626.00 423.08 L627.00 422.59 L628.00 422.10 L629.00 421.62 L630.00 421.13 L631.00 420.65 L632.00 420.17 L633.00 419.69 L634.00 419.21 L635.00 418.73 L636.00 418.26 L637.00 417.79 L638.00 417.32 L639.00 416.85 L640.00 416.38 L641.00 415.92 L642.00 415.46 L643.00 415.00 L644.00 414.54 L645.00 414.09 L646.00 413.63 L647.00 413.18 L648.00 412.73 L649.00 412.29 L650.00 411.84 L651.00 411.40 L652.00 410.96 L653.00 410.52 L654.00 410.08 L655.00 409.65 L656.00 409.22 L657.00 408.79 L658.00 408.36 L659.00 407.94 L660.00 407.52 L661.00 407.10 L662.00 406.68 L663.00 406.26 L664.00 405.85 L665.00 405.44 L666.00 405.03 L667.00 404.62 L668.00 404.22 L669.00 403.81 L670.00 403.42 L671.00 403.02 L672.00 402.62 L673.00 402.23 L674.00 401.84 L675.00 401.45 L676.00 401.07 L677.00 400.69 L678.00 400.30 L679.00 399.93 L680.00 399.55 L681.00 399.18 L682.00 398.81 L683.00 398.44 L684.00 398.07 L685.00 397.71 L686.00 397.35 L687.00 396.99 L688.00 396.64 L689.00 396.28 L690.00 395.93 L691.00 395.59 L692.00 395.24 L693.00 394.90 L694.00 394.56 L695.00 394.22 L696.00 393.88 L697.00 393.55 L698.00 393.22 L699.00 392.90 L700.00 392.57 L701.00 392.25 L702.00 391.93 L703.00 391.61 L704.00 391.30 L705.00 390.99 L706.00 390.68 L707.00 390.37 L708.00 390.07 L709.00 389.77 L710.00 389.47 L711.00 389.18 L712.00 388.88 L713.00 388.59 L714.00 388.31 L715.00 388.02 L716.00 387.74 L717.00 387.46 L718.00 387.19 L719.00 386.91 L720.00 386.64 L721.00 386.37 L722.00 386.11 L723.00 385.85 L724.00 385.59 L725.00 385.33 L726.00 385.08 L727.00 384.83 L728.00 384.58 L729.00 384.33 L730.00 384.09 L731.00 383.85 L732.00 383.62 L733.00 383.38 L734.00 383.15 L735.00 382.92 L736.00 382.70 L737.00 382.47 L738.00 382.26 L739.00 382.04 L740.00 381.82 L741.00 381.61 L742.00 381.41 L743.00 381.20 L744.00 381.00 L745.00 380.80 L746.00 380.60 L747.00 380.41 L748.00 380.22 L749.00 380.03 L750.00 379.85 L751.00 379.67 L752.00 379.49 L753.00 379.31 L754.00 379.14 L755.00 378.97 L756.00 378.80 L757.00 378.64 L758.00 378.48 L759.00 378.32 L760.00 378.17 L761.00 378.01 L762.00 377.87 L763.00 377.72 L764.00 377.58 L765.00 377.44 L766.00 377.30 L767.00 377.17 L768.00 377.04 L769.00 376.91 L770.00 376.78 L771.00 376.66 L772.00 376.54 L773.00 376.43 L774.00 376.32 L775.00 376.21 L776.00 376.10 L777.00 376.00 L778.00 375.90 L779.00 375.80 L780.00 375.70 L781.00 375.61 L782.00 375.52 L783.00 375.44 L784.00 375.36 L785.00 375.28 L786.00 375.20 L787.00 375.13 L788.00 375.06 L789.00 374.99 L790.00 374.93 L791.00 374.87 L792.00 374.81 L793.00 374.76 L794.00 374.70 L795.00 374.66 L796.00 374.61 L797.00 374.57 L798.00 374.53 L799.00 374.49 L800.00 374.46 L801.00 374.43 L802.00 374.40 L803.00 374.38 L804.00 374.36 L805.00 374.34 L805.70 374.33" stroke="#000000"/>
</g>
<g fill="none" stroke="#000" stroke-width="2.1">
<rect x="98.70" y="8.20" width="707.00" height="333.65"/>
<rect x="98.70" y="341.85" width="707.00" height="332.85"/>
<path d="M99.30 8.20 v12.80 M99.30 341.85 v-12.80 M99.30 341.85 v12.80 M99.30 674.70 v-12.80 M158.04 8.20 v6.60 M158.04 341.85 v-6.60 M158.04 341.85 v6.60 M158.04 674.70 v-6.60 M216.78 8.20 v9.30 M216.78 341.85 v-9.30 M216.78 341.85 v9.30 M216.78 674.70 v-9.30 M275.52 8.20 v6.60 M275.52 341.85 v-6.60 M275.52 341.85 v6.60 M275.52 674.70 v-6.60 M334.26 8.20 v12.80 M334.26 341.85 v-12.80 M334.26 341.85 v12.80 M334.26 674.70 v-12.80 M393.00 8.20 v6.60 M393.00 341.85 v-6.60 M393.00 341.85 v6.60 M393.00 674.70 v-6.60 M451.74 8.20 v9.30 M451.74 341.85 v-9.30 M451.74 341.85 v9.30 M451.74 674.70 v-9.30 M510.48 8.20 v6.60 M510.48 341.85 v-6.60 M510.48 341.85 v6.60 M510.48 674.70 v-6.60 M569.22 8.20 v12.80 M569.22 341.85 v-12.80 M569.22 341.85 v12.80 M569.22 674.70 v-12.80 M627.96 8.20 v6.60 M627.96 341.85 v-6.60 M627.96 341.85 v6.60 M627.96 674.70 v-6.60 M686.70 8.20 v9.30 M686.70 341.85 v-9.30 M686.70 341.85 v9.30 M686.70 674.70 v-9.30 M745.44 8.20 v6.60 M745.44 341.85 v-6.60 M745.44 341.85 v6.60 M745.44 674.70 v-6.60 M804.18 8.20 v12.80 M804.18 341.85 v-12.80 M804.18 341.85 v12.80 M804.18 674.70 v-12.80 M98.70 340.90 h12.80 M805.70 340.90 h-12.80 M98.70 315.41 h6.60 M805.70 315.41 h-6.60 M98.70 289.92 h9.30 M805.70 289.92 h-9.30 M98.70 264.43 h6.60 M805.70 264.43 h-6.60 M98.70 238.94 h12.80 M805.70 238.94 h-12.80 M98.70 213.45 h6.60 M805.70 213.45 h-6.60 M98.70 187.96 h9.30 M805.70 187.96 h-9.30 M98.70 162.47 h6.60 M805.70 162.47 h-6.60 M98.70 136.98 h12.80 M805.70 136.98 h-12.80 M98.70 111.49 h6.60 M805.70 111.49 h-6.60 M98.70 86.00 h9.30 M805.70 86.00 h-9.30 M98.70 60.51 h6.60 M805.70 60.51 h-6.60 M98.70 35.02 h12.80 M805.70 35.02 h-12.80 M98.70 9.53 h6.60 M805.70 9.53 h-6.60 M98.70 674.10 h12.80 M805.70 674.10 h-12.80 M98.70 648.59 h6.60 M805.70 648.59 h-6.60 M98.70 623.08 h9.30 M805.70 623.08 h-9.30 M98.70 597.57 h6.60 M805.70 597.57 h-6.60 M98.70 572.06 h12.80 M805.70 572.06 h-12.80 M98.70 546.55 h6.60 M805.70 546.55 h-6.60 M98.70 521.04 h9.30 M805.70 521.04 h-9.30 M98.70 495.53 h6.60 M805.70 495.53 h-6.60 M98.70 470.02 h12.80 M805.70 470.02 h-12.80 M98.70 444.51 h6.60 M805.70 444.51 h-6.60 M98.70 419.00 h9.30 M805.70 419.00 h-9.30 M98.70 393.49 h6.60 M805.70 393.49 h-6.60 M98.70 367.98 h12.80 M805.70 367.98 h-12.80 M98.70 342.47 h6.60 M805.70 342.47 h-6.60"/>
</g>
<g id="txt">
<g id="ticklabels">
<text transform="matrix(0.2190 0 0 0.2190 55.511 348.050)" font-family="Liberation Sans, sans-serif" font-style="normal" font-size="100" fill="#000">0.0</text>
<text transform="matrix(0.2190 0 0 0.2190 55.757 246.030)" font-family="Liberation Sans, sans-serif" font-style="normal" font-size="100" fill="#000">0.2</text>
<text transform="matrix(0.2190 0 0 0.2190 55.298 144.010)" font-family="Liberation Sans, sans-serif" font-style="normal" font-size="100" fill="#000">0.4</text>
<text transform="matrix(0.2190 0 0 0.2190 55.618 41.990)" font-family="Liberation Sans, sans-serif" font-style="normal" font-size="100" fill="#000">0.6</text>
<text transform="matrix(0.2190 0 0 0.2190 55.298 681.200)" font-family="Liberation Sans, sans-serif" font-style="normal" font-size="100" fill="#000">0.4</text>
<text transform="matrix(0.2190 0 0 0.2190 55.618 579.240)" font-family="Liberation Sans, sans-serif" font-style="normal" font-size="100" fill="#000">0.6</text>
<text transform="matrix(0.2190 0 0 0.2190 55.608 477.280)" font-family="Liberation Sans, sans-serif" font-style="normal" font-size="100" fill="#000">0.8</text>
<text transform="matrix(0.2190 0 0 0.2190 55.511 375.320)" font-family="Liberation Sans, sans-serif" font-style="normal" font-size="100" fill="#000">1.0</text>
<text transform="matrix(0.2190 0 0 0.2190 77.838 701.500)" font-family="Liberation Sans, sans-serif" font-style="normal" font-size="100" fill="#000">2.12</text>
<text transform="matrix(0.2190 0 0 0.2190 312.808 701.500)" font-family="Liberation Sans, sans-serif" font-style="normal" font-size="100" fill="#000">2.14</text>
<text transform="matrix(0.2190 0 0 0.2190 548.069 701.500)" font-family="Liberation Sans, sans-serif" font-style="normal" font-size="100" fill="#000">2.16</text>
<text transform="matrix(0.2190 0 0 0.2190 782.963 701.500)" font-family="Liberation Sans, sans-serif" font-style="normal" font-size="100" fill="#000">2.18</text>
</g>
<g id="legend">
<path d="M553.2 46.00 H590.8" stroke="#000000" stroke-width="2.25" fill="none"/>
<text transform="matrix(0.2594 0 0 0.2554 606.052 53.000)" font-family="Liberation Serif, serif" font-style="normal" font-size="100" fill="#000000" stroke="#000000" stroke-width="1.09" stroke-linejoin="round">Δ</text>
<text transform="matrix(0.2675 0 0 0.2575 624.853 53.000)" font-family="Liberation Serif, serif" font-style="italic" font-size="100" fill="#000000" stroke="#000000" stroke-width="1.07" stroke-linejoin="round">M</text>
<path d="M649.80 42.30H664.80M649.80 47.90H664.80" stroke="#000000" stroke-width="1.9" fill="none"/>
<text transform="matrix(0.2591 0 0 0.2554 666.563 53.000)" font-family="Liberation Serif, serif" font-style="normal" font-size="100" fill="#000000" stroke="#000000" stroke-width="1.09" stroke-linejoin="round">1</text>
<text transform="matrix(0.2812 0 0 0.2552 681.169 52.911)" font-family="Liberation Serif, serif" font-style="normal" font-size="100" fill="#000000" stroke="#000000" stroke-width="1.04" stroke-linejoin="round">0</text>
<path d="M695.8 34.70H700.1" stroke="#000000" stroke-width="1.5"/>
<text transform="matrix(0.2021 0 0 0.1782 700.112 39.000)" font-family="Liberation Serif, serif" font-style="normal" font-size="100" fill="#000000" stroke="#000000" stroke-width="1.05" stroke-linejoin="round">2</text>
<text transform="matrix(0.2541 0 0 0.2575 714.208 53.000)" font-family="Liberation Serif, serif" font-style="normal" font-size="100" fill="#000000" stroke="#000000" stroke-width="1.09" stroke-linejoin="round">M</text>
<circle cx="743.95" cy="50.50" r="5.75" fill="none" stroke="#000000" stroke-width="2.4"/><circle cx="743.95" cy="50.50" r="1.4" fill="#000000"/>
<path d="M553.2 80.50 H590.8" stroke="#E66101" stroke-width="2.25" fill="none"/>
<text transform="matrix(0.2594 0 0 0.2554 606.052 86.100)" font-family="Liberation Serif, serif" font-style="normal" font-size="100" fill="#E66101" stroke="#E66101" stroke-width="1.09" stroke-linejoin="round">Δ</text>
<text transform="matrix(0.2675 0 0 0.2575 624.853 86.100)" font-family="Liberation Serif, serif" font-style="italic" font-size="100" fill="#E66101" stroke="#E66101" stroke-width="1.07" stroke-linejoin="round">M</text>
<path d="M649.80 75.40H664.80M649.80 81.00H664.80" stroke="#E66101" stroke-width="1.9" fill="none"/>
<text transform="matrix(0.2824 0 0 0.2562 666.699 86.100)" font-family="Liberation Serif, serif" font-style="normal" font-size="100" fill="#E66101" stroke="#E66101" stroke-width="1.04" stroke-linejoin="round">2</text>
<text transform="matrix(0.2207 0 0 0.2181 680.927 86.100)" font-family="Liberation Sans, sans-serif" font-style="normal" font-size="100" fill="#E66101" stroke="#E66101" stroke-width="1.60" stroke-linejoin="round">x</text>
<text transform="matrix(0.2477 0 0 0.2554 692.663 86.100)" font-family="Liberation Serif, serif" font-style="normal" font-size="100" fill="#E66101" stroke="#E66101" stroke-width="1.11" stroke-linejoin="round">1</text>
<text transform="matrix(0.2978 0 0 0.2552 706.406 86.011)" font-family="Liberation Serif, serif" font-style="normal" font-size="100" fill="#E66101" stroke="#E66101" stroke-width="1.01" stroke-linejoin="round">0</text>
<path d="M723.9 68.20H727.6" stroke="#E66101" stroke-width="1.5"/>
<text transform="matrix(0.2155 0 0 0.1767 727.769 72.600)" font-family="Liberation Serif, serif" font-style="normal" font-size="100" fill="#E66101" stroke="#E66101" stroke-width="1.02" stroke-linejoin="round">3</text>
<text transform="matrix(0.2553 0 0 0.2575 743.204 86.100)" font-family="Liberation Serif, serif" font-style="normal" font-size="100" fill="#E66101" stroke="#E66101" stroke-width="1.09" stroke-linejoin="round">M</text>
<circle cx="772.60" cy="83.80" r="5.75" fill="none" stroke="#E66101" stroke-width="2.4"/><circle cx="772.60" cy="83.80" r="1.4" fill="#E66101"/>
<path d="M553.2 115.50 H590.8" stroke="#008080" stroke-width="2.25" fill="none"/>
<text transform="matrix(0.2594 0 0 0.2554 606.052 119.900)" font-family="Liberation Serif, serif" font-style="normal" font-size="100" fill="#008080" stroke="#008080" stroke-width="1.09" stroke-linejoin="round">Δ</text>
<text transform="matrix(0.2675 0 0 0.2575 624.853 119.900)" font-family="Liberation Serif, serif" font-style="italic" font-size="100" fill="#008080" stroke="#008080" stroke-width="1.07" stroke-linejoin="round">M</text>
<path d="M649.80 109.20H664.80M649.80 114.80H664.80" stroke="#008080" stroke-width="1.9" fill="none"/>
<text transform="matrix(0.2810 0 0 0.2590 666.307 119.900)" font-family="Liberation Serif, serif" font-style="normal" font-size="100" fill="#008080" stroke="#008080" stroke-width="1.04" stroke-linejoin="round">5</text>
<text transform="matrix(0.2207 0 0 0.2181 680.927 119.900)" font-family="Liberation Sans, sans-serif" font-style="normal" font-size="100" fill="#008080" stroke="#008080" stroke-width="1.60" stroke-linejoin="round">x</text>
<text transform="matrix(0.2477 0 0 0.2554 692.663 119.900)" font-family="Liberation Serif, serif" font-style="normal" font-size="100" fill="#008080" stroke="#008080" stroke-width="1.11" stroke-linejoin="round">1</text>
<text transform="matrix(0.2978 0 0 0.2552 706.406 119.811)" font-family="Liberation Serif, serif" font-style="normal" font-size="100" fill="#008080" stroke="#008080" stroke-width="1.01" stroke-linejoin="round">0</text>
<path d="M723.9 102.00H727.6" stroke="#008080" stroke-width="1.5"/>
<text transform="matrix(0.1915 0 0 0.1778 728.426 106.400)" font-family="Liberation Serif, serif" font-style="normal" font-size="100" fill="#008080" stroke="#008080" stroke-width="1.08" stroke-linejoin="round">4</text>
<text transform="matrix(0.2553 0 0 0.2575 743.204 119.900)" font-family="Liberation Serif, serif" font-style="normal" font-size="100" fill="#008080" stroke="#008080" stroke-width="1.09" stroke-linejoin="round">M</text>
<circle cx="772.60" cy="117.60" r="5.75" fill="none" stroke="#008080" stroke-width="2.4"/><circle cx="772.60" cy="117.60" r="1.4" fill="#008080"/>
<path d="M553.2 149.70 H590.8" stroke="#FF00FF" stroke-width="2.25" fill="none"/>
<text transform="matrix(0.2594 0 0 0.2554 606.052 154.800)" font-family="Liberation Serif, serif" font-style="normal" font-size="100" fill="#FF00FF" stroke="#FF00FF" stroke-width="1.09" stroke-linejoin="round">Δ</text>
<text transform="matrix(0.2675 0 0 0.2575 624.853 154.800)" font-family="Liberation Serif, serif" font-style="italic" font-size="100" fill="#FF00FF" stroke="#FF00FF" stroke-width="1.07" stroke-linejoin="round">M</text>
<path d="M649.80 144.10H664.80M649.80 149.70H664.80" stroke="#FF00FF" stroke-width="1.9" fill="none"/>
<text transform="matrix(0.2824 0 0 0.2562 666.699 154.800)" font-family="Liberation Serif, serif" font-style="normal" font-size="100" fill="#FF00FF" stroke="#FF00FF" stroke-width="1.04" stroke-linejoin="round">2</text>
<text transform="matrix(0.2207 0 0 0.2181 680.927 154.800)" font-family="Liberation Sans, sans-serif" font-style="normal" font-size="100" fill="#FF00FF" stroke="#FF00FF" stroke-width="1.60" stroke-linejoin="round">x</text>
<text transform="matrix(0.2477 0 0 0.2554 692.663 154.800)" font-family="Liberation Serif, serif" font-style="normal" font-size="100" fill="#FF00FF" stroke="#FF00FF" stroke-width="1.11" stroke-linejoin="round">1</text>
<text transform="matrix(0.2978 0 0 0.2552 706.406 154.711)" font-family="Liberation Serif, serif" font-style="normal" font-size="100" fill="#FF00FF" stroke="#FF00FF" stroke-width="1.01" stroke-linejoin="round">0</text>
<path d="M723.9 136.90H727.6" stroke="#FF00FF" stroke-width="1.5"/>
<text transform="matrix(0.2083 0 0 0.1767 727.905 141.300)" font-family="Liberation Serif, serif" font-style="normal" font-size="100" fill="#FF00FF" stroke="#FF00FF" stroke-width="1.04" stroke-linejoin="round">6</text>
<text transform="matrix(0.2553 0 0 0.2575 743.204 154.800)" font-family="Liberation Serif, serif" font-style="normal" font-size="100" fill="#FF00FF" stroke="#FF00FF" stroke-width="1.09" stroke-linejoin="round">M</text>
<circle cx="772.60" cy="152.50" r="5.75" fill="none" stroke="#FF00FF" stroke-width="2.4"/><circle cx="772.60" cy="152.50" r="1.4" fill="#FF00FF"/>
</g>
<g id="panellabels">
<text transform="matrix(0.2500 0 0 0.2462 125.842 45.820)" font-family="Liberation Serif, serif" font-style="normal" font-size="100" fill="#000" stroke="#000" stroke-width="0.32" stroke-linejoin="round">(</text>
<text transform="matrix(0.3271 0 0 0.2927 134.490 47.474)" font-family="Liberation Serif, serif" font-style="normal" font-size="100" fill="#000" stroke="#000" stroke-width="0.26" stroke-linejoin="round">a</text>
<text transform="matrix(0.2616 0 0 0.2462 149.297 45.820)" font-family="Liberation Serif, serif" font-style="normal" font-size="100" fill="#000" stroke="#000" stroke-width="0.32" stroke-linejoin="round">)</text>
<text transform="matrix(0.2500 0 0 0.2462 125.842 378.720)" font-family="Liberation Serif, serif" font-style="normal" font-size="100" fill="#000" stroke="#000" stroke-width="0.32" stroke-linejoin="round">(</text>
<text transform="matrix(0.3035 0 0 0.2703 134.940 380.396)" font-family="Liberation Serif, serif" font-style="normal" font-size="100" fill="#000" stroke="#000" stroke-width="0.28" stroke-linejoin="round">b</text>
<text transform="matrix(0.2616 0 0 0.2462 150.397 378.720)" font-family="Liberation Serif, serif" font-style="normal" font-size="100" fill="#000" stroke="#000" stroke-width="0.32" stroke-linejoin="round">)</text>
</g>
<g id="ylabels">
<g transform="rotate(-90)"><text transform="matrix(0.4093 0 0 0.3558 -223.800 37.400)" font-family="Liberation Serif, serif" font-style="italic" font-size="100" fill="#000" stroke="#000" stroke-width="0.52" stroke-linejoin="round">N</text></g>
<g transform="rotate(-90)"><text transform="matrix(0.3777 0 0 0.3209 -175.360 34.968)" font-family="Liberation Serif, serif" font-style="normal" font-size="100" fill="#000" stroke="#000" stroke-width="0.57" stroke-linejoin="round">(</text></g>
<g transform="rotate(-90)"><text transform="matrix(0.3358 0 0 0.3558 -162.067 37.400)" font-family="Liberation Serif, serif" font-style="normal" font-size="100" fill="#000" stroke="#000" stroke-width="0.58" stroke-linejoin="round">H</text></g>
<g transform="rotate(-90)"><text transform="matrix(0.4111 0 0 0.3704 -137.004 37.400)" font-family="Liberation Serif, serif" font-style="normal" font-size="100" fill="#000" stroke="#000" stroke-width="0.51" stroke-linejoin="round">z</text></g>
<g transform="rotate(-90)"><text transform="matrix(0.3777 0 0 0.3209 -120.917 34.968)" font-family="Liberation Serif, serif" font-style="normal" font-size="100" fill="#000" stroke="#000" stroke-width="0.57" stroke-linejoin="round">)</text></g>
<g transform="rotate(-90)"><text transform="matrix(0.3708 0 0 0.3528 -526.018 35.100)" font-family="Liberation Serif, serif" font-style="italic" font-size="100" fill="#000" stroke="#000" stroke-width="0.55" stroke-linejoin="round">Y</text></g>
</g>
<g id="xlabel">
<text transform="matrix(0.4295 0 0 0.3629 364.259 742.000)" font-family="Liberation Serif, serif" font-style="italic" font-size="100" fill="#000">r</text>
<text transform="matrix(0.3154 0 0 0.3165 395.514 739.862)" font-family="Liberation Serif, serif" font-style="normal" font-size="100" fill="#000">(</text>
<text transform="matrix(0.3551 0 0 0.3575 407.279 742.000)" font-family="Liberation Serif, serif" font-style="normal" font-size="100" fill="#000">1</text>
<text transform="matrix(0.4105 0 0 0.3586 426.236 742.050)" font-family="Liberation Serif, serif" font-style="normal" font-size="100" fill="#000">0</text>
<text transform="matrix(0.3117 0 0 0.2739 446.796 728.433)" font-family="Liberation Serif, serif" font-style="normal" font-size="100" fill="#000">9</text>
<text transform="matrix(0.3920 0 0 0.3784 462.407 742.130)" font-family="Liberation Serif, serif" font-style="normal" font-size="100" fill="#000">c</text>
<text transform="matrix(0.3805 0 0 0.3756 480.401 742.000)" font-family="Liberation Serif, serif" font-style="normal" font-size="100" fill="#000">m</text>
<text transform="matrix(0.3387 0 0 0.3165 511.008 739.862)" font-family="Liberation Serif, serif" font-style="normal" font-size="100" fill="#000">)</text>
</g>
</g>
</svg>
</body></html>
